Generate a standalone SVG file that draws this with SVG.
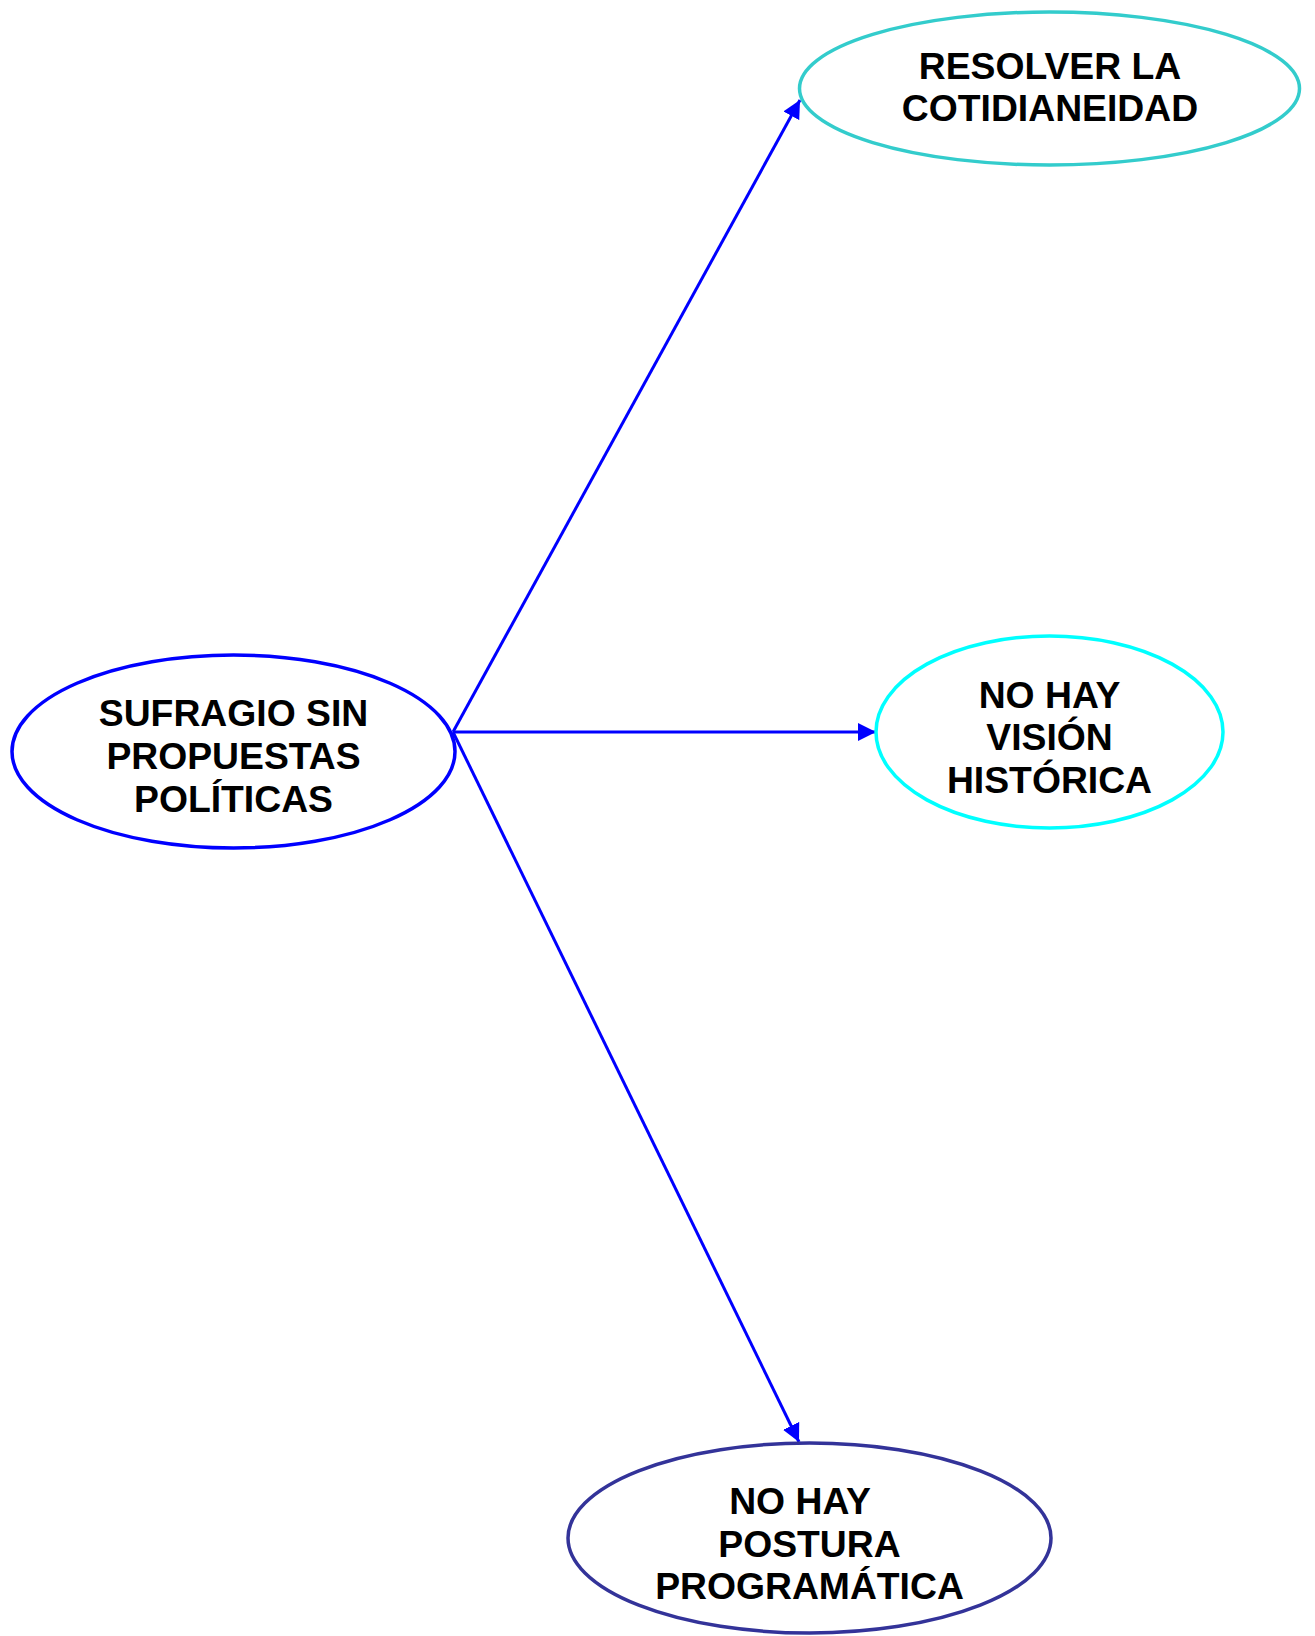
<svg xmlns="http://www.w3.org/2000/svg" width="1315" height="1636" viewBox="0 0 1315 1636">
<style>
.n{fill:#FFFFFF;stroke-width:3.5}
.t{font-family:"Liberation Sans",Arial,sans-serif;font-weight:bold;font-size:37.3px;fill:#000000;text-anchor:middle}
.c{stroke:#0000FF;stroke-width:3;fill:none;marker-end:url(#ah)}
</style>
<defs>
<marker id="ah" markerUnits="userSpaceOnUse" markerWidth="18" markerHeight="18" viewBox="0 0 16 16" refX="16" refY="8" orient="auto">
<path d="M0,0 L16,8 L0,16 Z" fill="#0000FF"/>
</marker>
</defs>
<rect width="1315" height="1636" fill="#FFFFFF"/>
<g id="connectors">
<line class="c" x1="453" y1="732" x2="800" y2="100"/>
<line class="c" x1="453" y1="732" x2="876" y2="732"/>
<line class="c" x1="453" y1="732" x2="799" y2="1442"/>
</g>
<g id="node-sufragio">
<ellipse class="n" cx="233.5" cy="751.5" rx="221.5" ry="96.5" stroke="#0000FF"/>
<text class="t" x="233.5" y="726">SUFRAGIO SIN</text>
<text class="t" x="233.5" y="769">PROPUESTAS</text>
<text class="t" x="233.5" y="812">POLÍTICAS</text>
</g>
<g id="node-resolver">
<ellipse class="n" cx="1049.5" cy="88.5" rx="250" ry="76.5" stroke="#33CCCC"/>
<text class="t" x="1050" y="78.5">RESOLVER LA</text>
<text class="t" x="1050" y="121">COTIDIANEIDAD</text>
</g>
<g id="node-vision">
<ellipse class="n" cx="1049.5" cy="732" rx="173.5" ry="96" stroke="#00FFFF"/>
<text class="t" x="1049.5" y="707.5">NO HAY</text>
<text class="t" x="1049.5" y="750">VISIÓN</text>
<text class="t" x="1049.5" y="792.5">HISTÓRICA</text>
</g>
<g id="node-postura">
<ellipse class="n" cx="809.5" cy="1538" rx="241.5" ry="95" stroke="#333399"/>
<text class="t" x="800" y="1514">NO HAY</text>
<text class="t" x="809.5" y="1556.5">POSTURA</text>
<text class="t" x="809.5" y="1598.5">PROGRAMÁTICA</text>
</g>
</svg>
